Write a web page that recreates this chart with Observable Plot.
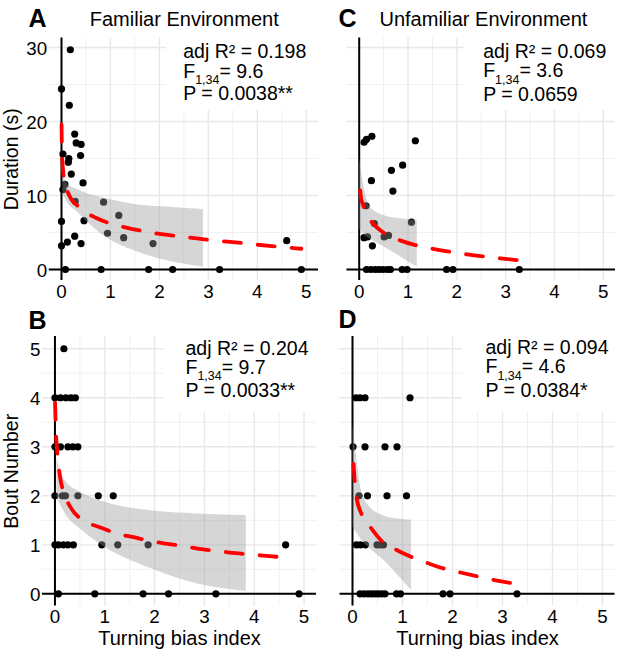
<!DOCTYPE html>
<html><head><meta charset="utf-8">
<script src="https://cdn.jsdelivr.net/npm/d3@7"></script>
<script src="https://cdn.jsdelivr.net/npm/@observablehq/plot@0.6"></script>
<style>
body{margin:0;background:#fff;}
#fig{position:relative;width:617px;height:653px;background:#fff;overflow:hidden;}
#fig svg{position:absolute;}
</style></head><body><div id="fig"></div>
<script>
const FONT = "'Liberation Sans', Arial, Helvetica, sans-serif";

// ticks / grid
const xTicks = [0, 1, 2, 3, 4, 5];
const xMinor = [0.5, 1.5, 2.5, 3.5, 4.5];
const durTicks = [0, 10, 20, 30];
const durMinor = [5, 15, 25];
const boutTicks = [0, 1, 2, 3, 4, 5];
const boutMinor = [0.5, 1.5, 2.5, 3.5, 4.5];

// A: familiar, duration  [turning bias, duration]
const famDuration = [[0.18,29.7],[0.0,24.4],[0.16,22.2],[0.27,18.3],[0.30,17.1],[0.40,16.9],[0.39,15.4],[0.03,15.6],[0.15,15.0],[0.14,14.5],[0.20,12.9],[0.44,11.7],[0.07,11.5],[0.03,10.8],[0.28,9.2],[0.86,9.1],[1.17,7.3],[0.46,6.6],[0.0,6.5],[0.94,4.9],[1.27,4.3],[0.27,4.5],[1.87,3.5],[0.40,3.5],[0.12,3.7],[0.0,3.2],[4.6,3.9],[0.08,0],[0.81,0],[1.78,0],[2.27,0],[3.23,0],[4.9,0]];
const famDurationFit = [[0.001,19.6],[0.01,16.0],[0.03,13.6],[0.06,12.0],[0.12,10.6],[0.2,9.5],[0.35,8.5],[0.5,7.7],[0.7,7.0],[1.0,6.2],[1.3,5.7],[1.65,5.2],[2.0,4.8],[2.5,4.4],[3.0,4.0],[3.5,3.7],[4.0,3.35],[4.5,3.05],[4.9,2.8]];
const famDurationBand = [[0.03,10.2,12.7],[0.15,8.8,11.4],[0.3,7.9,10.9],[0.5,6.6,10.3],[0.9,4.4,9.6],[1.5,2.5,8.8],[2.2,1.1,8.4],[2.9,0.3,8.1]];
const famDurationStats = ["adj R² = 0.198", "F|1,34|= 9.6", "P = 0.0038**"];

// B: familiar, bout number
const famBouts = [[0.18,5],[0.0,4],[0.11,4],[0.22,4],[0.32,4],[0.41,4],[0.0,3],[0.11,3],[0.26,3],[0.36,3],[0.46,3],[0.0,2],[0.15,2],[0.21,2],[0.46,2],[0.87,2],[1.17,2],[0.0,1],[0.07,1],[0.17,1],[0.26,1],[0.37,1],[0.94,1],[1.26,1],[1.87,1],[4.63,1],[0.07,0],[0.8,0],[1.77,0],[2.28,0],[3.23,0],[4.9,0]];
const famBoutsFit = [[0.002,3.9],[0.02,3.3],[0.05,2.85],[0.1,2.4],[0.15,2.15],[0.2,2.0],[0.31,1.77],[0.58,1.49],[0.9,1.36],[1.24,1.23],[1.6,1.15],[1.9,1.08],[2.26,1.02],[2.6,0.97],[2.94,0.91],[3.3,0.87],[3.63,0.83],[3.97,0.8],[4.3,0.77],[4.65,0.74]];
const famBoutsBand = [[0.04,1.97,2.75],[0.21,1.63,2.3],[0.55,1.29,2.05],[1.0,0.95,1.87],[1.87,0.54,1.7],[2.87,0.2,1.63],[3.84,0.05,1.6]];
const famBoutsStats = ["adj R² = 0.204", "F|1,34|= 9.7", "P = 0.0033**"];

// C: unfamiliar, duration
const unfDuration = [[0.10,17.2],[0.15,17.6],[0.26,18.0],[1.15,17.4],[0.89,14.1],[0.66,13.4],[0.25,12.0],[0.69,10.6],[0.14,8.6],[0.31,6.2],[1.07,6.4],[0.10,4.3],[0.17,4.4],[0.51,4.4],[0.60,4.6],[0.27,3.2],[0.15,0],[0.24,0],[0.33,0],[0.41,0],[0.49,0],[0.58,0],[0.64,0],[0.88,0],[0.98,0],[1.79,0],[1.92,0],[3.28,0]];
const unfDurationFit = [[0.02,10.7],[0.04,9.6],[0.07,8.9],[0.12,7.9],[0.2,6.9],[0.3,6.1],[0.45,5.2],[0.6,4.6],[0.85,3.9],[1.15,3.3],[1.5,2.8],[1.85,2.4],[2.2,2.05],[2.5,1.8],[2.9,1.5],[3.28,1.22]];
const unfDurationBand = [[0.01,5.4,15.0],[0.1,4.7,11.1],[0.23,4.1,8.4],[0.5,3.1,7.3],[0.85,1.7,6.85],[1.19,0.3,6.6]];
const unfDurationStats = ["adj R² = 0.069", "F|1,34|= 3.6", "P = 0.0659"];

// D: unfamiliar, bout number
const unfBouts = [[0.07,4],[0.15,4],[0.25,4],[1.15,4],[0.01,3],[0.25,3],[0.65,3],[0.89,3],[0.13,2],[0.30,2],[0.69,2],[1.08,2],[0.08,1],[0.16,1],[0.26,1],[0.49,1],[0.56,1],[0.62,1],[0.15,0],[0.23,0],[0.31,0],[0.38,0],[0.45,0],[0.51,0],[0.58,0],[0.65,0],[0.88,0],[0.96,0],[1.81,0],[1.95,0],[3.29,0]];
const unfBoutsFit = [[0.02,2.65],[0.04,2.35],[0.08,1.97],[0.18,1.63],[0.38,1.33],[0.61,1.05],[0.91,0.88],[1.21,0.74],[1.55,0.61],[1.85,0.51],[2.18,0.43],[2.48,0.36],[2.89,0.27],[3.29,0.2]];
const unfBoutsBand = [[0.01,1.36,3.45],[0.08,1.25,2.8],[0.18,1.1,2.1],[0.35,0.92,1.77],[0.61,0.7,1.6],[0.88,0.41,1.53],[1.18,0.07,1.5]];
const unfBoutsStats = ["adj R² = 0.094", "F|1,34|= 4.6", "P = 0.0384*"];

const fig = document.getElementById("fig");

function panel(c) {
  const marks = [
    Plot.ruleX(xMinor, {stroke: "#eeeeee", strokeWidth: 0.9}),
    Plot.ruleY(c.yMinor, {stroke: "#eeeeee", strokeWidth: 0.9}),
    Plot.ruleX(xTicks, {stroke: "#e8e8e8", strokeWidth: 1.4}),
    Plot.ruleY(c.yTicks, {stroke: "#e8e8e8", strokeWidth: 1.4}),
    Plot.rect([c.box], {x1: d => d[0], x2: d => d[1], y1: d => d[2], y2: d => d[3], fill: "white"}),
    Plot.ruleX([0], {stroke: "black", strokeWidth: 2}),
    Plot.ruleY([0], {stroke: "black", strokeWidth: 2}),
    Plot.dot(c.points, {x: d => d[0], y: d => d[1], r: 3.6, fill: "black", stroke: "none"}),
    Plot.areaY(c.band, {x: d => d[0], y1: d => d[1], y2: d => d[2], fill: "#999999", fillOpacity: 0.4, curve: "monotone-x"}),
    Plot.line(c.fit, {x: d => d[0], y: d => d[1], stroke: "#ff0000", strokeWidth: 3.8, strokeDasharray: "17,17", curve: "monotone-x"}),
    Plot.axisX(xTicks, {tickSize: 0, tickPadding: 4, label: null, fill: "black", fontSize: 18.8}),
    Plot.text([c.letter], {frameAnchor: "top-left", textAnchor: "start", lineAnchor: "bottom", dx: c.letterDx, dy: c.letterDy, fontWeight: "bold", fontSize: 25, fill: "black"})
  ];
  if (c.showY) marks.push(Plot.axisY(c.yTicks, {tickSize: 0, tickPadding: 2, label: null, fill: "black", dy: 1, fontSize: 18.8}));
  if (c.title) marks.push(Plot.text([c.title], {frameAnchor: "top-left", textAnchor: "start", lineAnchor: "bottom", dx: c.titleDx, dy: c.titleDy, fill: "black", fontSize: 20}));
  c.stats.forEach((s, i) => marks.push(Plot.text([s], {frameAnchor: "top-left", textAnchor: "start", lineAnchor: "bottom", dx: c.statsDx, dy: c.statsDy[i], fill: "black"})));
  if (c.ylabel) marks.push(Plot.text([c.ylabel], {frameAnchor: "left", rotate: -90, textAnchor: "middle", lineAnchor: "middle", dx: c.ylabelDx, fill: "black"}));
  if (c.xlabel) marks.push(Plot.text([c.xlabel], {frameAnchor: "bottom", textAnchor: "middle", lineAnchor: "bottom", dy: c.xlabelDy, fill: "black", fontSize: 20}));

  const svg = Plot.plot({
    width: c.width, height: c.height,
    marginLeft: c.ml, marginRight: c.mr, marginTop: c.mt, marginBottom: c.mb,
    x: {domain: [-0.25, 5.25], axis: null},
    y: {domain: c.yDomain, axis: null},
    style: {fontFamily: FONT, fontSize: "19.5px", color: "black", background: "transparent", overflow: "visible"},
    marks
  });
  svg.style.left = c.left + "px";
  svg.style.top = c.top + "px";
  svg.style.maxWidth = "none";
  d3.select(svg).selectAll("text").each(function () {
    const m = /^F\|(.+)\|(.*)$/.exec(this.textContent || "");
    if (m) {
      const el = d3.select(this);
      el.text(null);
      el.append("tspan").text("F");
      el.append("tspan").attr("font-size", 12.5).attr("dy", 6.5).text(m[1]);
      el.append("tspan").attr("dy", -6.5).text(m[2]);
    }
  });
  fig.appendChild(svg);
}

const durDomain = [-1.49, 31.29];
const boutDomain = [-0.25, 5.25];

panel({left: 0, top: 0, width: 330, height: 300, ml: 48.75, mr: 12, mt: 37.5, mb: 20,
  yDomain: durDomain, yTicks: durTicks, yMinor: durMinor, showY: true,
  points: famDuration, fit: famDurationFit, band: famDurationBand, box: [2.15, 5.25, 21.5, 31.29],
  letter: "A", letterDx: -20.75, letterDy: -11,
  title: "Familiar Environment", titleDx: 40.5, titleDy: -12.5,
  stats: famDurationStats, statsDx: 134, statsDy: [19.8, 39.8, 61.8],
  ylabel: "Duration (s)", ylabelDx: -37.5});

panel({left: 330, top: 0, width: 287, height: 300, ml: 16.5, mr: 2, mt: 37.5, mb: 20,
  yDomain: durDomain, yTicks: durTicks, yMinor: durMinor, showY: false,
  points: unfDuration, fit: unfDurationFit, band: unfDurationBand, box: [2.15, 5.25, 21.5, 31.29],
  letter: "C", letterDx: -8.5, letterDy: -11,
  title: "Unfamiliar Environment", titleDx: 32.5, titleDy: -12.5,
  stats: unfDurationStats, statsDx: 136.2, statsDy: [19.8, 39.2, 62.5]});

panel({left: 0, top: 300, width: 330, height: 353, ml: 42, mr: 14, mt: 36, mb: 47.4,
  yDomain: boutDomain, yTicks: boutTicks, yMinor: boutMinor, showY: true,
  points: famBouts, fit: famBoutsFit, band: famBoutsBand, box: [2.2, 5.25, 3.7, 5.25],
  letter: "B", letterDx: -14, letterDy: -8,
  stats: famBoutsStats, statsDx: 143, statsDy: [18, 37.3, 60],
  ylabel: "Bout Number", ylabelDx: -31,
  xlabel: "Turning bias index", xlabelDy: 38.4});

panel({left: 330, top: 300, width: 287, height: 353, ml: 9.5, mr: 2.5, mt: 36, mb: 47.4,
  yDomain: boutDomain, yTicks: boutTicks, yMinor: boutMinor, showY: false,
  points: unfBouts, fit: unfBoutsFit, band: unfBoutsBand, box: [2.2, 5.25, 3.7, 5.25],
  letter: "D", letterDx: -1.5, letterDy: -9,
  stats: unfBoutsStats, statsDx: 145.5, statsDy: [17.3, 36.7, 60],
  xlabel: "Turning bias index", xlabelDy: 38.4});
</script></body></html>
